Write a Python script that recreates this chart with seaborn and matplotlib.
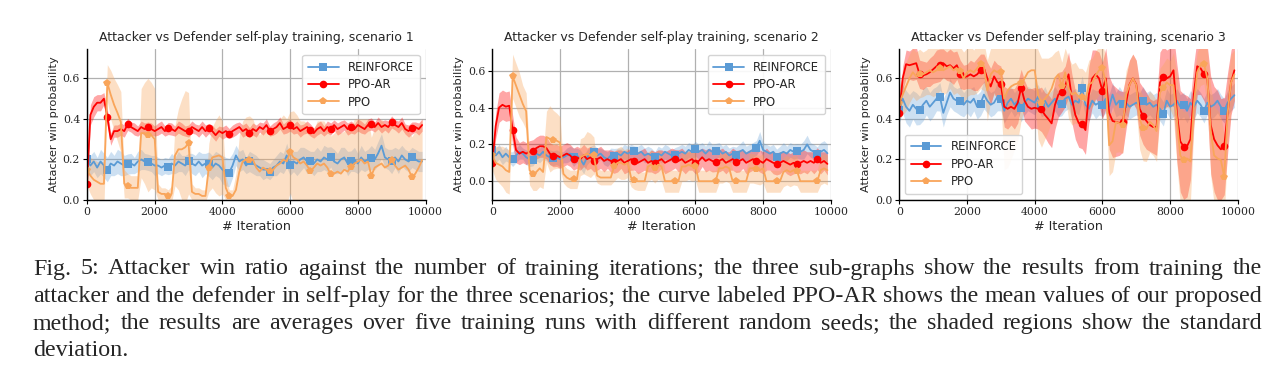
import numpy as np
import matplotlib
matplotlib.use("Agg")
import matplotlib.pyplot as plt
import seaborn as sns

# Iterations (logged every 100 iterations)
iters = np.arange(0, 10000, 100)

# ---- Scenario 1 ----
s1_reinforce = [0.20, 0.17, 0.19, 0.16, 0.19, 0.17, 0.15, 0.18, 0.17, 0.19,
                0.18, 0.17, 0.177, 0.18, 0.17, 0.19, 0.20, 0.19, 0.186, 0.18,
                0.17, 0.17, 0.16, 0.17, 0.165, 0.18, 0.17, 0.19, 0.18, 0.17,
                0.19, 0.18, 0.17, 0.19, 0.17, 0.18, 0.177, 0.16, 0.18, 0.17,
                0.15, 0.14, 0.135, 0.17, 0.22, 0.19, 0.20, 0.17, 0.19, 0.18,
                0.17, 0.16, 0.15, 0.15, 0.14, 0.16, 0.17, 0.19, 0.18, 0.22,
                0.172, 0.19, 0.18, 0.20, 0.21, 0.19, 0.19, 0.18, 0.20, 0.19,
                0.21, 0.20, 0.213, 0.19, 0.18, 0.20, 0.21, 0.18, 0.192, 0.20,
                0.18, 0.21, 0.19, 0.20, 0.209, 0.20, 0.23, 0.268, 0.21, 0.20,
                0.19, 0.21, 0.19, 0.22, 0.20, 0.19, 0.21, 0.20, 0.19, 0.19]
s1_reinforce_sd = [0.04, 0.05, 0.05, 0.05, 0.06, 0.06, 0.06, 0.06, 0.05, 0.06,
                   0.06, 0.05, 0.05, 0.05, 0.04, 0.05, 0.05, 0.04, 0.04, 0.04,
                   0.05, 0.04, 0.04, 0.04, 0.04, 0.05, 0.04, 0.05, 0.04, 0.05,
                   0.04, 0.05, 0.05, 0.05, 0.06, 0.05, 0.06, 0.06, 0.06, 0.06,
                   0.07, 0.07, 0.07, 0.06, 0.05, 0.05, 0.05, 0.04, 0.05, 0.05,
                   0.05, 0.04, 0.05, 0.04, 0.04, 0.04, 0.05, 0.05, 0.05, 0.06,
                   0.05, 0.05, 0.06, 0.06, 0.05, 0.06, 0.05, 0.06, 0.06, 0.05,
                   0.06, 0.06, 0.05, 0.06, 0.05, 0.06, 0.05, 0.06, 0.05, 0.06,
                   0.05, 0.06, 0.05, 0.05, 0.06, 0.05, 0.06, 0.06, 0.05, 0.05,
                   0.06, 0.05, 0.06, 0.05, 0.05, 0.05, 0.05, 0.05, 0.05, 0.05]
s1_ppoar = [0.08, 0.42, 0.46, 0.48, 0.48, 0.50, 0.41, 0.30, 0.34, 0.34,
            0.35, 0.34, 0.373, 0.36, 0.35, 0.34, 0.36, 0.35, 0.36, 0.35,
            0.34, 0.35, 0.36, 0.34, 0.353, 0.35, 0.34, 0.36, 0.35, 0.34,
            0.34, 0.36, 0.35, 0.34, 0.36, 0.34, 0.353, 0.34, 0.32, 0.34,
            0.33, 0.34, 0.328, 0.34, 0.35, 0.36, 0.34, 0.35, 0.332, 0.35,
            0.34, 0.36, 0.35, 0.37, 0.34, 0.35, 0.36, 0.38, 0.35, 0.36,
            0.37, 0.35, 0.36, 0.34, 0.35, 0.36, 0.345, 0.33, 0.35, 0.36,
            0.34, 0.36, 0.35, 0.37, 0.35, 0.36, 0.37, 0.35, 0.36, 0.35,
            0.37, 0.36, 0.35, 0.37, 0.375, 0.36, 0.38, 0.36, 0.37, 0.36,
            0.385, 0.37, 0.36, 0.38, 0.35, 0.34, 0.355, 0.36, 0.35, 0.37]
s1_ppoar_sd = [0.02, 0.05, 0.05, 0.04, 0.04, 0.03, 0.04, 0.03, 0.03, 0.03,
               0.03, 0.03, 0.03, 0.025, 0.03, 0.025, 0.03, 0.03, 0.025, 0.03,
               0.025, 0.03, 0.03, 0.025, 0.03, 0.03, 0.025, 0.03, 0.03, 0.025,
               0.03, 0.03, 0.025, 0.03, 0.03, 0.03, 0.025, 0.03, 0.03, 0.025,
               0.03, 0.03, 0.025, 0.03, 0.03, 0.025, 0.03, 0.03, 0.025, 0.03,
               0.03, 0.025, 0.03, 0.03, 0.025, 0.03, 0.03, 0.03, 0.025, 0.03,
               0.03, 0.025, 0.03, 0.03, 0.025, 0.03, 0.03, 0.025, 0.03, 0.03,
               0.025, 0.03, 0.03, 0.025, 0.03, 0.03, 0.025, 0.03, 0.03, 0.025,
               0.03, 0.03, 0.025, 0.03, 0.03, 0.025, 0.03, 0.03, 0.025, 0.03,
               0.03, 0.025, 0.03, 0.03, 0.025, 0.03, 0.03, 0.025, 0.03, 0.03]
s1_ppo = [0.15, 0.12, 0.10, 0.09, 0.08, 0.08, 0.578, 0.52, 0.47, 0.43,
          0.385, 0.08, 0.07, 0.06, 0.06, 0.06, 0.33, 0.33, 0.32, 0.32,
          0.30, 0.04, 0.03, 0.03, 0.02, 0.03, 0.22, 0.25, 0.25, 0.26,
          0.28, 0.04, 0.03, 0.03, 0.02, 0.02, 0.16, 0.21, 0.215, 0.22,
          0.21, 0.06, 0.02, 0.02, 0.05, 0.14, 0.19, 0.20, 0.195, 0.20,
          0.16, 0.14, 0.16, 0.15, 0.143, 0.15, 0.17, 0.18, 0.20, 0.19,
          0.236, 0.21, 0.20, 0.18, 0.19, 0.17, 0.143, 0.16, 0.18, 0.17,
          0.18, 0.16, 0.126, 0.13, 0.14, 0.13, 0.15, 0.14, 0.164, 0.18,
          0.19, 0.20, 0.18, 0.19, 0.12, 0.16, 0.17, 0.18, 0.16, 0.17,
          0.197, 0.17, 0.15, 0.16, 0.17, 0.15, 0.112, 0.13, 0.16, 0.197]
s1_ppo_sd = [0.08, 0.09, 0.10, 0.10, 0.11, 0.11, 0.09, 0.12, 0.13, 0.14,
             0.15, 0.07, 0.06, 0.06, 0.06, 0.06, 0.22, 0.25, 0.28, 0.26,
             0.25, 0.04, 0.03, 0.03, 0.03, 0.04, 0.15, 0.20, 0.25, 0.28,
             0.25, 0.04, 0.03, 0.03, 0.03, 0.03, 0.12, 0.15, 0.18, 0.20,
             0.18, 0.06, 0.03, 0.03, 0.08, 0.18, 0.20, 0.21, 0.22, 0.20,
             0.19, 0.18, 0.20, 0.19, 0.18, 0.19, 0.21, 0.22, 0.22, 0.21,
             0.20, 0.23, 0.22, 0.21, 0.20, 0.21, 0.20, 0.19, 0.21, 0.22,
             0.21, 0.20, 0.19, 0.20, 0.21, 0.20, 0.19, 0.21, 0.20, 0.22,
             0.21, 0.20, 0.22, 0.21, 0.19, 0.20, 0.21, 0.22, 0.21, 0.20,
             0.21, 0.20, 0.21, 0.22, 0.20, 0.19, 0.20, 0.21, 0.21, 0.20]

# ---- Scenario 2 ----
s2_reinforce = [0.17, 0.14, 0.16, 0.13, 0.15, 0.13, 0.12, 0.14, 0.16, 0.15,
                0.13, 0.12, 0.113, 0.15, 0.14, 0.16, 0.14, 0.13, 0.125, 0.13,
                0.12, 0.13, 0.14, 0.15, 0.13, 0.14, 0.12, 0.09, 0.13, 0.15,
                0.158, 0.14, 0.15, 0.13, 0.12, 0.14, 0.138, 0.15, 0.14, 0.16,
                0.15, 0.16, 0.162, 0.15, 0.16, 0.14, 0.15, 0.14, 0.13, 0.15,
                0.14, 0.16, 0.15, 0.14, 0.143, 0.15, 0.16, 0.15, 0.17, 0.16,
                0.176, 0.16, 0.17, 0.15, 0.17, 0.16, 0.165, 0.17, 0.15, 0.16,
                0.14, 0.15, 0.145, 0.16, 0.17, 0.15, 0.16, 0.17, 0.181, 0.22,
                0.17, 0.16, 0.15, 0.16, 0.134, 0.15, 0.16, 0.15, 0.17, 0.16,
                0.165, 0.16, 0.17, 0.20, 0.17, 0.16, 0.147, 0.16, 0.17, 0.152]
s2_reinforce_sd = [0.03, 0.04, 0.04, 0.04, 0.04, 0.03, 0.04, 0.04, 0.04, 0.03,
                   0.04, 0.04, 0.03, 0.04, 0.04, 0.04, 0.03, 0.04, 0.04, 0.04,
                   0.04, 0.03, 0.04, 0.04, 0.05, 0.04, 0.05, 0.05, 0.04, 0.04,
                   0.04, 0.04, 0.03, 0.04, 0.04, 0.04, 0.04, 0.03, 0.04, 0.04,
                   0.04, 0.04, 0.03, 0.04, 0.04, 0.04, 0.04, 0.04, 0.03, 0.04,
                   0.04, 0.04, 0.04, 0.03, 0.04, 0.04, 0.04, 0.04, 0.04, 0.04,
                   0.04, 0.04, 0.04, 0.04, 0.05, 0.04, 0.04, 0.04, 0.04, 0.04,
                   0.04, 0.04, 0.04, 0.04, 0.05, 0.04, 0.04, 0.04, 0.04, 0.05,
                   0.04, 0.04, 0.04, 0.04, 0.04, 0.04, 0.05, 0.04, 0.04, 0.04,
                   0.04, 0.04, 0.05, 0.05, 0.04, 0.04, 0.04, 0.05, 0.05, 0.05]
s2_ppoar = [0.098, 0.30, 0.40, 0.415, 0.405, 0.41, 0.28, 0.17, 0.15, 0.16,
            0.15, 0.16, 0.165, 0.18, 0.19, 0.19, 0.18, 0.15, 0.138, 0.14,
            0.13, 0.14, 0.15, 0.14, 0.12, 0.13, 0.12, 0.14, 0.12, 0.13,
            0.11, 0.12, 0.13, 0.11, 0.12, 0.11, 0.103, 0.11, 0.12, 0.10,
            0.11, 0.12, 0.11, 0.10, 0.11, 0.12, 0.10, 0.11, 0.10, 0.11,
            0.12, 0.10, 0.11, 0.12, 0.122, 0.11, 0.12, 0.10, 0.11, 0.12,
            0.10, 0.11, 0.13, 0.11, 0.12, 0.11, 0.102, 0.11, 0.12, 0.10,
            0.11, 0.12, 0.107, 0.11, 0.12, 0.10, 0.11, 0.12, 0.112, 0.11,
            0.10, 0.12, 0.11, 0.10, 0.094, 0.10, 0.11, 0.10, 0.09, 0.10,
            0.094, 0.10, 0.11, 0.10, 0.11, 0.10, 0.122, 0.10, 0.11, 0.094]
s2_ppoar_sd = [0.04, 0.07, 0.08, 0.08, 0.08, 0.08, 0.08, 0.07, 0.06, 0.06,
               0.06, 0.06, 0.06, 0.06, 0.06, 0.06, 0.06, 0.06, 0.06, 0.06,
               0.06, 0.06, 0.06, 0.06, 0.06, 0.06, 0.06, 0.06, 0.06, 0.06,
               0.06, 0.06, 0.06, 0.06, 0.05, 0.06, 0.06, 0.06, 0.05, 0.06,
               0.06, 0.06, 0.05, 0.06, 0.06, 0.06, 0.05, 0.06, 0.06, 0.06,
               0.05, 0.06, 0.06, 0.06, 0.05, 0.06, 0.06, 0.06, 0.05, 0.06,
               0.06, 0.06, 0.05, 0.06, 0.06, 0.06, 0.05, 0.06, 0.06, 0.06,
               0.05, 0.06, 0.06, 0.06, 0.05, 0.06, 0.06, 0.06, 0.05, 0.06,
               0.06, 0.06, 0.05, 0.06, 0.06, 0.06, 0.05, 0.06, 0.06, 0.06,
               0.05, 0.06, 0.06, 0.06, 0.05, 0.06, 0.06, 0.06, 0.05, 0.06]
s2_ppo = [0.14, 0.10, 0.09, 0.08, 0.06, 0.05, 0.57, 0.52, 0.47, 0.42,
          0.38, 0.06, 0.04, 0.05, 0.07, 0.05, 0.24, 0.23, 0.225, 0.22,
          0.21, 0.04, 0.02, 0.01, 0.01, 0.01, 0.13, 0.14, 0.15, 0.14,
          0.14, 0.03, 0.02, 0.02, 0.02, 0.02, 0.08, 0.10, 0.10, 0.09,
          0.10, 0.02, 0.005, 0.0, 0.0, 0.0, 0.08, 0.09, 0.07, 0.09,
          0.08, 0.0, 0.0, 0.0, 0.0, 0.0, 0.08, 0.08, 0.09, 0.08,
          0.085, 0.0, 0.0, 0.0, 0.0, 0.0, 0.0, 0.07, 0.07, 0.08,
          0.07, 0.0, 0.0, 0.0, 0.0, 0.0, 0.07, 0.07, 0.065, 0.06,
          0.07, 0.0, 0.0, 0.0, 0.0, 0.0, 0.05, 0.06, 0.05, 0.06,
          0.056, 0.0, 0.0, 0.0, 0.0, 0.0, 0.0, 0.06, 0.07, 0.06]
s2_ppo_sd = [0.08, 0.09, 0.10, 0.11, 0.12, 0.12, 0.12, 0.12, 0.12, 0.10,
             0.10, 0.08, 0.09, 0.10, 0.10, 0.09, 0.14, 0.18, 0.16, 0.15,
             0.14, 0.05, 0.05, 0.05, 0.05, 0.05, 0.10, 0.10, 0.12, 0.12,
             0.10, 0.04, 0.04, 0.04, 0.04, 0.04, 0.08, 0.08, 0.09, 0.08,
             0.08, 0.05, 0.05, 0.05, 0.05, 0.05, 0.08, 0.08, 0.08, 0.08,
             0.08, 0.06, 0.06, 0.06, 0.06, 0.06, 0.08, 0.08, 0.08, 0.08,
             0.08, 0.06, 0.06, 0.06, 0.06, 0.06, 0.06, 0.08, 0.08, 0.08,
             0.08, 0.06, 0.06, 0.06, 0.06, 0.06, 0.08, 0.08, 0.08, 0.08,
             0.08, 0.06, 0.06, 0.06, 0.06, 0.06, 0.08, 0.08, 0.08, 0.08,
             0.08, 0.06, 0.06, 0.06, 0.06, 0.06, 0.06, 0.08, 0.08, 0.08]

# ---- Scenario 3 ----
s3_reinforce = [0.443, 0.50, 0.46, 0.44, 0.47, 0.45, 0.442, 0.47, 0.49, 0.46,
                0.48, 0.50, 0.509, 0.43, 0.48, 0.53, 0.50, 0.49, 0.488, 0.47,
                0.49, 0.48, 0.50, 0.46, 0.476, 0.52, 0.49, 0.47, 0.48, 0.51,
                0.50, 0.44, 0.48, 0.50, 0.47, 0.49, 0.456, 0.48, 0.50, 0.49,
                0.48, 0.51, 0.47, 0.49, 0.46, 0.48, 0.50, 0.47, 0.476, 0.50,
                0.51, 0.47, 0.49, 0.48, 0.553, 0.47, 0.45, 0.49, 0.47, 0.48,
                0.471, 0.50, 0.46, 0.52, 0.47, 0.49, 0.473, 0.48, 0.46, 0.47,
                0.48, 0.47, 0.49, 0.47, 0.48, 0.46, 0.47, 0.45, 0.425, 0.49,
                0.46, 0.47, 0.49, 0.46, 0.47, 0.44, 0.48, 0.46, 0.49, 0.47,
                0.44, 0.48, 0.46, 0.47, 0.49, 0.46, 0.44, 0.48, 0.50, 0.517]
s3_reinforce_sd = [0.06, 0.07, 0.08, 0.08, 0.07, 0.08, 0.07, 0.08, 0.07, 0.07,
                   0.07, 0.06, 0.07, 0.07, 0.06, 0.07, 0.06, 0.06, 0.07, 0.06,
                   0.06, 0.07, 0.06, 0.06, 0.06, 0.07, 0.06, 0.06, 0.06, 0.07,
                   0.06, 0.06, 0.07, 0.06, 0.06, 0.06, 0.07, 0.06, 0.06, 0.06,
                   0.06, 0.06, 0.06, 0.07, 0.06, 0.06, 0.06, 0.06, 0.06, 0.06,
                   0.06, 0.07, 0.06, 0.06, 0.06, 0.06, 0.06, 0.06, 0.07, 0.06,
                   0.06, 0.07, 0.06, 0.06, 0.06, 0.07, 0.06, 0.06, 0.06, 0.06,
                   0.06, 0.06, 0.07, 0.06, 0.06, 0.06, 0.06, 0.06, 0.06, 0.06,
                   0.06, 0.06, 0.06, 0.06, 0.06, 0.06, 0.06, 0.06, 0.06, 0.06,
                   0.06, 0.06, 0.06, 0.06, 0.06, 0.06, 0.06, 0.06, 0.06, 0.06]
s3_ppoar = [0.427, 0.60, 0.67, 0.665, 0.67, 0.675, 0.62, 0.615, 0.62, 0.63,
            0.645, 0.66, 0.665, 0.675, 0.66, 0.665, 0.65, 0.665, 0.62, 0.605,
            0.61, 0.62, 0.61, 0.62, 0.64, 0.65, 0.60, 0.56, 0.61, 0.58,
            0.571, 0.46, 0.45, 0.46, 0.45, 0.48, 0.555, 0.49, 0.46, 0.45,
            0.455, 0.45, 0.447, 0.42, 0.40, 0.378, 0.47, 0.52, 0.534, 0.56,
            0.62, 0.50, 0.42, 0.38, 0.373, 0.345, 0.52, 0.60, 0.62, 0.60,
            0.54, 0.60, 0.43, 0.39, 0.385, 0.38, 0.385, 0.48, 0.57, 0.60,
            0.57, 0.45, 0.415, 0.39, 0.37, 0.36, 0.36, 0.58, 0.607, 0.60,
            0.61, 0.64, 0.43, 0.29, 0.263, 0.265, 0.30, 0.52, 0.66, 0.65,
            0.62, 0.60, 0.37, 0.30, 0.27, 0.25, 0.266, 0.43, 0.58, 0.64]
s3_ppoar_sd = [0.04, 0.06, 0.07, 0.07, 0.08, 0.08, 0.07, 0.07, 0.06, 0.07,
               0.07, 0.08, 0.08, 0.07, 0.07, 0.08, 0.08, 0.07, 0.07, 0.06,
               0.06, 0.07, 0.07, 0.08, 0.08, 0.07, 0.08, 0.09, 0.08, 0.09,
               0.09, 0.10, 0.10, 0.09, 0.10, 0.10, 0.09, 0.10, 0.09, 0.10,
               0.10, 0.10, 0.11, 0.11, 0.12, 0.12, 0.12, 0.11, 0.10, 0.10,
               0.11, 0.12, 0.12, 0.12, 0.12, 0.12, 0.14, 0.14, 0.12, 0.13,
               0.14, 0.15, 0.18, 0.18, 0.17, 0.16, 0.15, 0.13, 0.12, 0.12,
               0.12, 0.13, 0.14, 0.14, 0.13, 0.13, 0.14, 0.15, 0.15, 0.14,
               0.14, 0.18, 0.24, 0.25, 0.26, 0.25, 0.20, 0.15, 0.14, 0.13,
               0.13, 0.16, 0.24, 0.26, 0.27, 0.25, 0.24, 0.20, 0.16, 0.15]
s3_ppo = [0.48, 0.52, 0.56, 0.60, 0.63, 0.61, 0.624, 0.62, 0.63, 0.64,
          0.63, 0.64, 0.65, 0.64, 0.65, 0.66, 0.64, 0.65, 0.635, 0.60,
          0.63, 0.64, 0.63, 0.65, 0.67, 0.66, 0.54, 0.62, 0.64, 0.63,
          0.63, 0.50, 0.54, 0.56, 0.57, 0.575, 0.575, 0.60, 0.63, 0.64,
          0.64, 0.52, 0.48, 0.50, 0.52, 0.55, 0.60, 0.62, 0.56, 0.63,
          0.55, 0.52, 0.53, 0.51, 0.509, 0.49, 0.57, 0.58, 0.615, 0.64,
          0.65, 0.58, 0.27, 0.29, 0.385, 0.378, 0.37, 0.52, 0.567, 0.60,
          0.567, 0.40, 0.353, 0.35, 0.386, 0.37, 0.34, 0.53, 0.553, 0.58,
          0.567, 0.567, 0.40, 0.22, 0.197, 0.205, 0.19, 0.47, 0.63, 0.665,
          0.673, 0.60, 0.34, 0.22, 0.205, 0.197, 0.115, 0.43, 0.58, 0.62]
s3_ppo_sd = [0.08, 0.10, 0.12, 0.12, 0.12, 0.12, 0.12, 0.11, 0.11, 0.12,
             0.12, 0.12, 0.11, 0.12, 0.12, 0.11, 0.12, 0.12, 0.12, 0.13,
             0.12, 0.12, 0.11, 0.12, 0.12, 0.12, 0.15, 0.13, 0.12, 0.12,
             0.13, 0.35, 0.38, 0.36, 0.32, 0.28, 0.18, 0.15, 0.14, 0.14,
             0.15, 0.22, 0.22, 0.20, 0.18, 0.16, 0.13, 0.12, 0.12, 0.12,
             0.15, 0.15, 0.15, 0.14, 0.14, 0.14, 0.12, 0.12, 0.12, 0.12,
             0.12, 0.13, 0.15, 0.15, 0.15, 0.14, 0.14, 0.12, 0.12, 0.12,
             0.12, 0.15, 0.16, 0.16, 0.15, 0.15, 0.15, 0.12, 0.12, 0.12,
             0.12, 0.16, 0.22, 0.24, 0.24, 0.23, 0.20, 0.12, 0.10, 0.10,
             0.10, 0.14, 0.22, 0.24, 0.24, 0.22, 0.20, 0.16, 0.14, 0.12]

scenarios = [
    (s1_reinforce, s1_reinforce_sd, s1_ppoar, s1_ppoar_sd, s1_ppo, s1_ppo_sd),
    (s2_reinforce, s2_reinforce_sd, s2_ppoar, s2_ppoar_sd, s2_ppo, s2_ppo_sd),
    (s3_reinforce, s3_reinforce_sd, s3_ppoar, s3_ppoar_sd, s3_ppo, s3_ppo_sd),
]
labels = ["REINFORCE", "PPO-AR", "PPO"]
colors = ["#5b9bd5", "#ff0000", "#f9a55a"]
markers = ["s", "o", "p"]
band_alpha = [0.3, 0.35, 0.35]
ylims = [(0, 0.745), (-0.102, 0.718), (0, 0.745)]
legend_loc = ["upper right", "upper right", "lower left"]

caption_lines = [
    "Fig. 5: Attacker win ratio against the number of training iterations; the three sub-graphs show the results from training the",
    "attacker and the defender in self-play for the three scenarios; the curve labeled PPO-AR shows the mean values of our proposed",
    "method; the results are averages over five training runs with different random seeds; the shaded regions show the standard",
    "deviation.",
]

sns.set_style("whitegrid")
plt.rcParams["font.family"] = ["DejaVu Sans"]

W, H = 1286, 376
fig = plt.figure(figsize=(W / 100, H / 100), dpi=100)
lefts = [87, 492.3, 899.3]

for k, (data, left) in enumerate(zip(scenarios, lefts)):
    ax = fig.add_axes([left / W, 1 - 200 / H, 338.5 / W, 151 / H])
    means = data[0::2]
    sds = data[1::2]
    for m, s, c, a in zip(means, sds, colors, band_alpha):
        m = np.array(m)
        s = np.array(s)
        ax.fill_between(iters, m - s, m + s, color=c, alpha=a, lw=0)
    for m, c, mk, lab in zip(means, colors, markers, labels):
        sns.lineplot(x=iters, y=m, ax=ax, color=c, marker=mk, markevery=6,
                     markersize=5.5, markeredgewidth=0, linewidth=1.3,
                     label=lab, errorbar=None)
    ax.set_xlim(0, 10000)
    ax.set_ylim(*ylims[k])
    ax.set_xticks([0, 2000, 4000, 6000, 8000, 10000])
    ax.set_yticks([0.0, 0.2, 0.4, 0.6])
    ax.set_yticklabels(["0.0", "0.2", "0.4", "0.6"])
    ax.grid(True, color="#b0b0b0", linewidth=0.9)
    for side in ["top", "right"]:
        ax.spines[side].set_visible(False)
    for side in ["left", "bottom"]:
        ax.spines[side].set_color("black")
        ax.spines[side].set_linewidth(1.0)
    ax.tick_params(axis="both", which="both", length=3, width=0.8,
                   color="black", pad=2, bottom=True, left=True)
    for t in ax.get_xticklabels() + ax.get_yticklabels():
        t.set_fontfamily("DejaVu Serif")
        t.set_fontsize(7.8)
    ax.set_title(f"Attacker vs Defender self-play training, scenario {k + 1}",
                 fontsize=9, pad=6)
    ax.set_xlabel("# Iteration", fontsize=9.2, labelpad=2)
    ax.set_ylabel("Attacker win probability", fontsize=8.2, labelpad=3)
    ax.legend(loc=legend_loc[k], fontsize=8.4, handlelength=2.6,
              borderpad=0.5, labelspacing=0.38, framealpha=0.9,
              edgecolor="#d0d0d0")

# Caption, justified between fixed margins
renderer = fig.canvas.get_renderer()
x0, x1 = 33, 1262
cap_kw = dict(fontsize=17.3, family="Liberation Serif", va="baseline", ha="left")
for i, line in enumerate(caption_lines):
    y = 1 - (274.5 + 27.2 * i) / H
    if i == len(caption_lines) - 1:
        fig.text(x0 / W, y, line, **cap_kw)
        continue
    words = line.split()
    texts = [fig.text(0, y, w, **cap_kw) for w in words]
    widths = [t.get_window_extent(renderer).width for t in texts]
    gap = (x1 - x0 - sum(widths)) / (len(words) - 1)
    pos = x0
    for t, w in zip(texts, widths):
        t.set_x(pos / W)
        pos += w + gap

fig.savefig("out.png", dpi=100)
